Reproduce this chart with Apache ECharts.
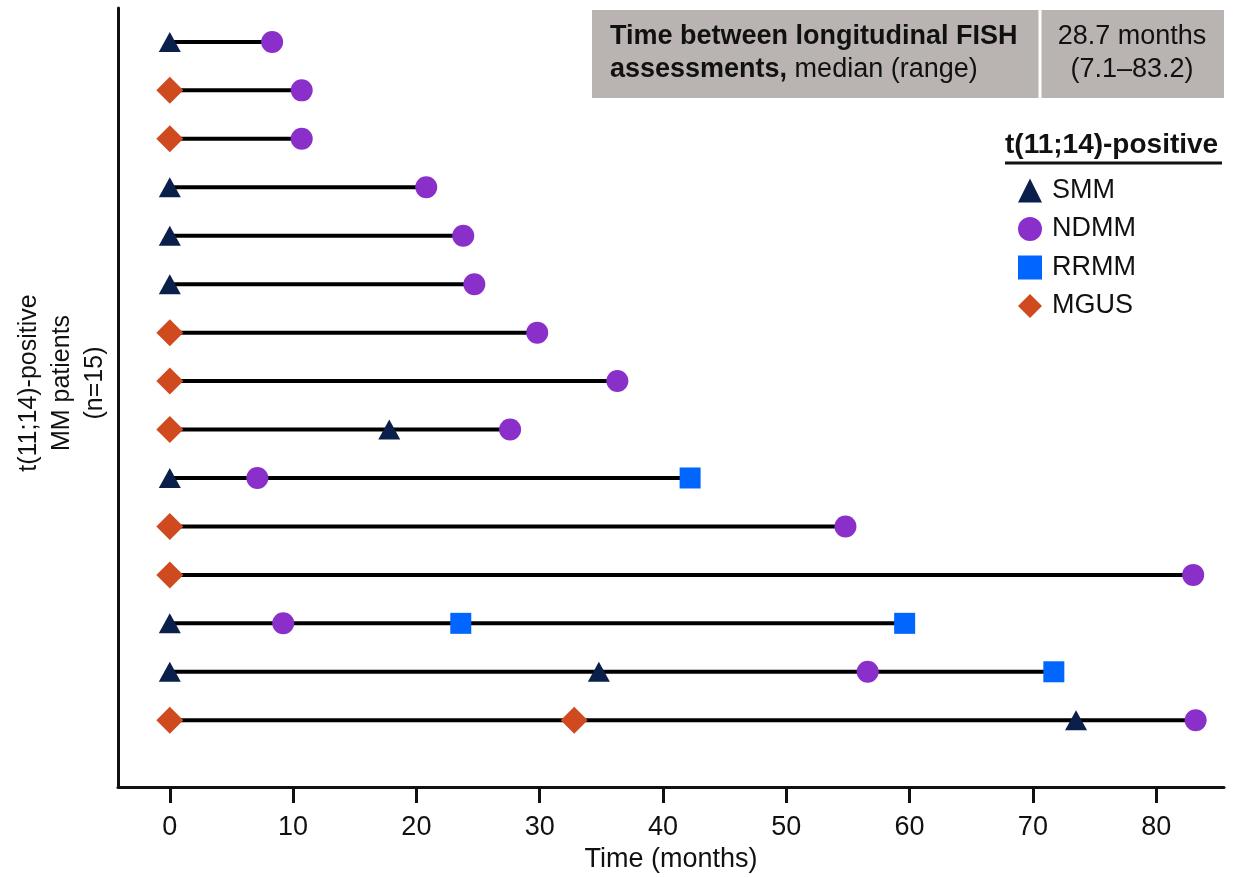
<!DOCTYPE html>
<html>
<head>
<meta charset="utf-8">
<title>t(11;14) longitudinal FISH</title>
<script src="https://cdn.jsdelivr.net/npm/echarts@6/dist/echarts.min.js"></script>
<style>
	html, body { margin: 0; padding: 0; background: #fff; }
	#chart { width: 1238px; height: 878px; }
</style>
</head>
<body>
<div id="chart"></div>
<script>
// month values, row 1 is the top patient
var rowEnd = [8.3, 10.7, 10.7, 20.8, 23.8, 24.7, 29.8, 36.3, 27.6, 42.2, 54.8, 83.0, 59.6, 71.7, 83.2];
var smmPts = [[0, 1], [0, 4], [0, 5], [0, 6], [17.8, 9], [0, 10], [0, 13], [0, 14], [34.8, 14], [73.5, 15]];
var ndmmPts = [[8.3, 1], [10.7, 2], [10.7, 3], [20.8, 4], [23.8, 5], [24.7, 6], [29.8, 7], [36.3, 8], [27.6, 9],
	[7.1, 10], [54.8, 11], [83.0, 12], [9.2, 13], [56.6, 14], [83.2, 15]];
var rrmmPts = [[42.2, 10], [23.6, 13], [59.6, 13], [71.7, 14]];
var mgusPts = [[0, 2], [0, 3], [0, 7], [0, 8], [0, 9], [0, 11], [0, 12], [0, 15], [32.8, 15]];
var xTicks = [0, 10, 20, 30, 40, 50, 60, 70, 80];

var FONT = '"Liberation Sans", Arial, sans-serif';

var dom = document.getElementById("chart");
var myChart = echarts.init(dom);
var option = null;

var series = [];
// one black segment per patient, from 0 to the last assessment
for (var i = 0; i < rowEnd.length; i++) {
	series.push({
		type: 'line',
		silent: true,
		symbol: 'none',
		z: 1,
		lineStyle: { color: '#000', width: 4 },
		data: [[0, i + 1], [rowEnd[i], i + 1]]
	});
}
series.push(
	{ name: 'SMM', type: 'scatter', symbol: 'triangle', symbolSize: [22, 20], z: 5,
		itemStyle: { color: '#0b1f4b', opacity: 1 }, data: smmPts },
	{ name: 'NDMM', type: 'scatter', symbol: 'circle', symbolSize: 22, z: 4,
		itemStyle: { color: '#8a2fc9', opacity: 1 }, data: ndmmPts },
	{ name: 'RRMM', type: 'scatter', symbol: 'rect', symbolSize: 21, z: 4,
		itemStyle: { color: '#0066ff', opacity: 1 }, data: rrmmPts },
	{ name: 'MGUS', type: 'scatter', symbol: 'diamond', symbolSize: 27, z: 4,
		itemStyle: { color: '#d04a20', opacity: 1 }, data: mgusPts }
);

option = {
	backgroundColor: '#fff',
	animation: false,
	textStyle: { fontFamily: FONT },
	grid: { left: 118, right: 14, top: 8, bottom: 90 },
	xAxis: {
		type: 'value',
		min: -4.2,
		max: 85.5,
		name: 'Time (months)',
		nameLocation: 'middle',
		nameGap: 57,
		nameTextStyle: { fontSize: 27, color: '#111', fontFamily: FONT },
		splitLine: { show: false },
		axisLine: { show: true, onZero: false, lineStyle: { color: '#111', width: 3 } },
		axisTick: { show: true, customValues: xTicks, length: 16, lineStyle: { color: '#111', width: 3 } },
		axisLabel: { customValues: xTicks, margin: 27, fontSize: 27, color: '#111', fontFamily: FONT }
	},
	yAxis: {
		type: 'value',
		inverse: true,
		min: 0.3,
		max: 16.38,
		splitLine: { show: false },
		axisTick: { show: false },
		axisLabel: { show: false },
		axisLine: { show: true, onZero: false, lineStyle: { color: '#111', width: 3 } }
	},
	legend: {
		orient: 'vertical',
		left: 1013,
		top: 172,
		itemWidth: 24,
		itemHeight: 24,
		itemGap: 11.5,
		textStyle: { fontSize: 27, color: '#111', fontFamily: FONT, padding: [0, 0, 0, 5] },
		data: ['SMM', 'NDMM', 'RRMM', 'MGUS']
	},
	graphic: [
		{ type: 'rect', shape: { x: 592, y: 10, width: 632, height: 88 }, style: { fill: '#b9b4b2' }, silent: true },
		{ type: 'line', shape: { x1: 1040, y1: 10, x2: 1040, y2: 98 }, style: { stroke: '#fff', lineWidth: 3 }, silent: true },
		{ type: 'text', x: 610, y: 37, silent: true,
			style: { text: 'Time between longitudinal FISH', font: 'bold 27px ' + FONT, fill: '#111', verticalAlign: 'middle' } },
		{ type: 'text', x: 610, y: 70, silent: true,
			style: {
				text: '{b|assessments,}{n| median (range)}',
				verticalAlign: 'middle',
				rich: {
					b: { font: 'bold 27px ' + FONT, fill: '#111' },
					n: { font: '27px ' + FONT, fill: '#111' }
				}
			} },
		{ type: 'text', x: 1132, y: 37, silent: true,
			style: { text: '28.7 months', font: '27px ' + FONT, fill: '#111', align: 'center', verticalAlign: 'middle' } },
		{ type: 'text', x: 1132, y: 70, silent: true,
			style: { text: '(7.1\u201383.2)', font: '27px ' + FONT, fill: '#111', align: 'center', verticalAlign: 'middle' } },
		// legend heading with its rule
		{ type: 'text', x: 1005, y: 145, silent: true,
			style: { text: 't(11;14)-positive', font: 'bold 28px ' + FONT, fill: '#111', verticalAlign: 'middle' } },
		{ type: 'line', shape: { x1: 1005, y1: 163, x2: 1222, y2: 163 }, style: { stroke: '#111', lineWidth: 3 }, silent: true },
		// y axis title
		{ type: 'text', x: 62, y: 383, rotation: Math.PI / 2, silent: true,
			style: {
				text: 't(11;14)-positive\nMM patients\n(n=15)',
				font: '25px ' + FONT, fill: '#111', align: 'center', verticalAlign: 'middle', lineHeight: 33
			} }
	],
	series: series
};

if (option && typeof option === "object") {
	myChart.setOption(option, true);
}
</script>
</body>
</html>
